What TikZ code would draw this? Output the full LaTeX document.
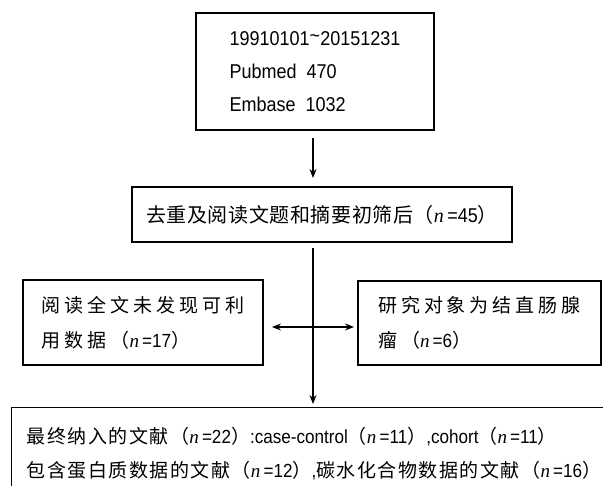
\documentclass[tikz,border=0pt]{standalone}
\usepackage{fontspec}
\usetikzlibrary{arrows.meta}
\setmainfont{Liberation Sans}[FakeStretch=0.9]
\newfontfamily\cjkA{Noto Sans CJK SC}[LetterSpace=3]
\newfontfamily\cjkB{Noto Sans CJK SC}[LetterSpace=21]
\newfontfamily\cjkC{Noto Sans CJK SC}[LetterSpace=8]
\newfontfamily\nfont{Liberation Serif}
\newcommand\nn{{\nfont\itshape n}}
\tikzset{
  box/.style={draw, line width=1.4pt, inner sep=0pt, align=left},
  arr/.style={line width=1.2pt, -{Stealth[length=9pt,width=7pt,inset=3pt]}},
  darr/.style={line width=1.2pt, {Stealth[length=9pt,width=7pt,inset=3pt]}-{Stealth[length=9pt,width=7pt,inset=3pt]}},
  ln/.style={line width=1.2pt}
}
\begin{document}
\begin{tikzpicture}[x=1pt,y=-1pt]
\useasboundingbox (0,0) rectangle (603,486);
\clip (0,0) rectangle (603,486);
\fill[white] (0,0) rectangle (603,486);

\node[box, minimum width=238, minimum height=117, font=\fontsize{20}{33}\selectfont] (top) at (315,71.5)
  {19910101\raisebox{3pt}{\char`\~}20151231\\Pubmed\ \ 470\\Embase\ \ 1032};

\node[box, minimum width=380, minimum height=55, font=\fontsize{20}{24}\selectfont] (scr) at (322,214.5)
  {{\cjkA 去重及阅读文题和摘要初筛后（}\nn\,=45{\cjkA ）}};

\node[box, minimum width=240, minimum height=85, font=\fontsize{19}{35}\selectfont] (L) at (143,322.5)
  {{\cjkB 阅读全文未发现可利}\\{\cjkB 用数据（}\nn\,=17{\cjkB ）}};

\node[box, minimum width=243, minimum height=84, font=\fontsize{19}{35}\selectfont] (R) at (479.5,323)
  {{\cjkB 研究对象为结直肠腺}\\{\cjkB 瘤（}\nn\,=6{\cjkB ）}};

\node[box, anchor=north west, minimum width=620, minimum height=92, text width=590, inner xsep=14pt, font=\fontsize{19}{34}\selectfont] (fin) at (11,407)
  {{\cjkC 最终纳入的文献（}\nn\,=22{\cjkC ）}:case-control{\cjkC （}\nn\,=11{\cjkC ）},cohort{\cjkC （}\nn\,=11{\cjkC ）}\\
   {\cjkC 包含蛋白质数据的文献（}\nn\,=12{\cjkC ）},{\cjkC 碳水化合物数据的文献（}\nn\,=16{\cjkC ）}};

\coordinate (a1s) at (313,138);
\coordinate (a1e) at (313,178);
\draw[arr] (a1s) -- (a1e);

\coordinate (vs) at (313,248);
\coordinate (ve) at (313,404);
\draw[arr] (vs) -- (ve);

\coordinate (hl) at (272,327);
\coordinate (hr) at (354,327);
\draw[darr] (hl) -- (hr);
\end{tikzpicture}
\end{document}
